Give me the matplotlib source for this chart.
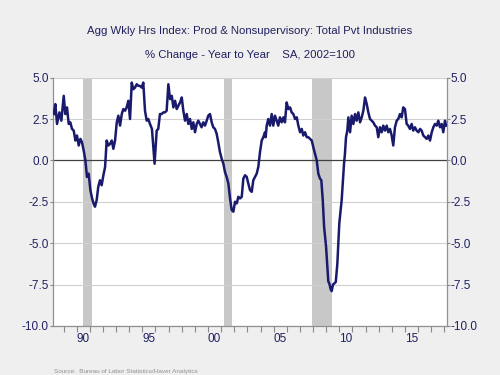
import matplotlib
matplotlib.use("Agg")
import matplotlib.pyplot as plt

# year-over-year % change (decimal years)
years = [
    1988.25, 1988.37, 1988.50, 1988.68, 1988.83, 1989.01, 1989.13, 1989.26, 1989.39, 1989.51,
    1989.64, 1989.77, 1989.90, 1990.02, 1990.15, 1990.28, 1990.40, 1990.53, 1990.66, 1990.78,
    1990.91, 1991.04, 1991.17, 1991.28, 1991.39, 1991.52, 1991.64, 1991.77, 1991.90, 1992.03,
    1992.16, 1992.28, 1992.41, 1992.54, 1992.67, 1992.79, 1992.92, 1993.05, 1993.17, 1993.30,
    1993.43, 1993.55, 1993.68, 1993.80, 1993.93, 1994.06, 1994.19, 1994.31, 1994.44, 1994.57,
    1994.70, 1994.82, 1994.95, 1995.07, 1995.20, 1995.33, 1995.45, 1995.58, 1995.73, 1995.93,
    1996.09, 1996.21, 1996.34, 1996.47, 1996.60, 1996.72, 1996.85, 1996.98, 1997.11, 1997.24,
    1997.36, 1997.49, 1997.62, 1997.74, 1997.87, 1998.00, 1998.12, 1998.25, 1998.38, 1998.50,
    1998.63, 1998.76, 1998.88, 1999.01, 1999.14, 1999.26, 1999.39, 1999.51, 1999.64, 1999.77,
    1999.90, 2000.02, 2000.15, 2000.28, 2000.40, 2000.53, 2000.66, 2000.78, 2000.91, 2001.04,
    2001.17, 2001.29, 2001.42, 2001.55, 2001.68, 2001.80, 2001.93, 2002.06, 2002.19, 2002.31,
    2002.44, 2002.57, 2002.69, 2002.82, 2002.95, 2003.07, 2003.20, 2003.33, 2003.45, 2003.58,
    2003.71, 2003.83, 2003.96, 2004.09, 2004.21, 2004.34, 2004.39, 2004.47, 2004.59, 2004.72,
    2004.85, 2004.97, 2005.10, 2005.23, 2005.35, 2005.48, 2005.61, 2005.74, 2005.86, 2005.99,
    2006.12, 2006.25, 2006.37, 2006.50, 2006.63, 2006.76, 2006.88, 2007.01, 2007.14, 2007.26,
    2007.39, 2007.52, 2007.64, 2007.77, 2007.90, 2008.02, 2008.15, 2008.28, 2008.40, 2008.53,
    2008.63, 2008.74, 2008.84, 2008.99, 2009.08, 2009.16, 2009.24, 2009.35, 2009.42, 2009.52,
    2009.60, 2009.73, 2009.85, 2010.00, 2010.18, 2010.26, 2010.36, 2010.43, 2010.51, 2010.61,
    2010.69, 2010.82, 2010.94, 2011.07, 2011.20, 2011.32, 2011.45, 2011.58, 2011.71, 2011.83,
    2011.96, 2012.09, 2012.21, 2012.34, 2012.47, 2012.59, 2012.72, 2012.85, 2012.97, 2013.10,
    2013.23, 2013.35, 2013.48, 2013.61, 2013.73, 2013.86, 2013.99, 2014.11, 2014.24, 2014.37,
    2014.49, 2014.62, 2014.75, 2014.87, 2015.00, 2015.13, 2015.25, 2015.38, 2015.51, 2015.63,
    2015.76, 2015.89, 2016.02, 2016.15, 2016.27, 2016.40, 2016.53, 2016.66, 2016.78, 2016.91,
    2017.04, 2017.16, 2017.29, 2017.42, 2017.54, 2017.67, 2017.80, 2017.92, 2018.05, 2018.13,
]
pct_change = [
    2.8, 3.4, 2.2, 2.9, 2.4, 3.9, 2.8, 3.2, 2.2, 2.3,
    1.9, 1.8, 1.2, 1.5, 0.9, 1.3, 1.1, 0.6, 0.0, -1.0,
    -0.8, -1.8, -2.3, -2.6, -2.8, -2.4, -1.6, -1.2, -1.5, -0.9,
    -0.4, 1.2, 0.9, 1.0, 1.2, 0.7, 1.2, 2.3, 2.7, 2.1,
    2.8, 3.1, 3.0, 3.2, 3.6, 2.5, 4.7, 4.3, 4.4, 4.6,
    4.5, 4.5, 4.4, 4.7, 3.0, 2.4, 2.5, 2.2, 1.9, -0.2,
    1.8, 1.9, 2.8, 2.8, 2.9, 2.9, 3.0, 4.6, 3.7, 3.9,
    3.2, 3.6, 3.1, 3.3, 3.5, 3.8, 3.0, 2.4, 2.8, 2.2,
    2.5, 1.9, 2.3, 1.7, 2.2, 2.4, 2.2, 2.0, 2.3, 2.1,
    2.4, 2.7, 2.8, 2.3, 2.0, 1.9, 1.6, 1.1, 0.5, 0.1,
    -0.2, -0.7, -1.0, -1.4, -2.3, -3.0, -3.1, -2.5, -2.6, -2.2,
    -2.3, -2.2, -1.1, -0.9, -1.0, -1.4, -1.8, -1.9, -1.2, -1.0,
    -0.8, -0.4, 0.5, 1.2, 1.4, 1.7, 1.4, 2.1, 2.5, 2.1,
    2.8, 2.1, 2.7, 2.4, 2.1, 2.6, 2.3, 2.6, 2.3, 3.5,
    3.1, 3.2, 2.9, 2.8, 2.5, 2.6, 2.1, 1.7, 1.9, 1.5,
    1.7, 1.4, 1.4, 1.3, 1.2, 0.8, 0.4, 0.0, -0.8, -1.1,
    -1.2, -2.4, -4.0, -5.2, -6.3, -7.3, -7.45, -7.8, -7.9, -7.5,
    -7.45, -7.35, -6.25, -3.8, -2.4, -1.4, -0.2, 0.4, 1.4, 1.8,
    2.6, 1.7, 2.7, 2.2, 2.8, 2.4, 2.9, 2.3, 2.6, 3.0,
    3.8, 3.4, 2.9, 2.5, 2.4, 2.3, 2.1, 2.0, 1.4, 2.0,
    1.7, 2.1, 1.8, 2.1, 1.7, 1.9, 1.5, 0.9, 2.0, 2.4,
    2.5, 2.8, 2.6, 3.2, 3.1, 2.2, 2.1, 1.9, 2.2, 1.8,
    2.0, 1.8, 1.7, 1.9, 1.8, 1.5, 1.4, 1.3, 1.5, 1.2,
    1.7, 2.0, 2.2, 2.1, 2.4, 2.0, 2.2, 1.7, 2.4, 2.1,
]
recessions = [(1990.50, 1991.17), (2001.22, 2001.86), (2007.92, 2009.42)]
year_labels = ["90", "95", "00", "05", "10", "15"]
label_years = [1990, 1995, 2000, 2005, 2010, 2015]
y_ticks = [-10.0, -7.5, -5.0, -2.5, 0.0, 2.5, 5.0]

navy = "#1a1a6c"
text_navy = "#202060"
bg = "#efefef"

plt.rcParams["font.family"] = ["Liberation Sans", "DejaVu Sans"]

fig = plt.figure(figsize=(5, 3.75), dpi=100, facecolor=bg)
ax = fig.add_axes([0.1054, 0.131, 0.788, 0.662])
ax.set_facecolor("white")

for start, end in recessions:
    ax.axvspan(start, end, color="#c8c8c8", lw=0, zorder=1)

for y in y_ticks:
    if y == 0.0:
        ax.axhline(y, color="#404040", lw=0.9, zorder=2)
    else:
        ax.axhline(y, color="#d0d0d0", lw=0.8, zorder=2)

ax.plot(years, pct_change, color=navy, lw=1.8, zorder=3)

ax.set_xlim(1988.17, 2018.18)
ax.set_ylim(-10, 5)

# year ticks at boundaries, labels centred on the year
ax.set_xticks(range(1989, 2019))
ax.set_xticklabels([])
ax.set_xticks([y + 0.5 for y in label_years], minor=True)
ax.set_xticklabels(year_labels, minor=True)
ax.tick_params(axis="x", which="major", direction="out", length=4, color="#888888", width=0.8)
ax.tick_params(axis="x", which="minor", length=0, pad=5, labelsize=8.5, labelcolor=text_navy)

ax.set_yticks(y_ticks)
ax.set_yticklabels([f"{v:.1f}" for v in y_ticks])
ax.tick_params(axis="y", direction="out", length=2, color="#888888", width=0.8,
               labelsize=8.5, labelcolor=text_navy, left=True, right=True,
               labelleft=True, labelright=True, pad=0.8)

for side in ["left", "right", "bottom"]:
    ax.spines[side].set_color("#909090")
    ax.spines[side].set_linewidth(0.9)
ax.spines["top"].set_visible(False)

fig.text(0.5, 1 - 30.5 / 375, "Agg Wkly Hrs Index: Prod & Nonsupervisory: Total Pvt Industries",
         ha="center", va="center", fontsize=8.2, color=text_navy)
fig.text(0.5, 1 - 55 / 375, "% Change - Year to Year    SA, 2002=100",
         ha="center", va="center", fontsize=8.2, color=text_navy)
fig.text(54 / 500, 1 - 371 / 375, "Source:  Bureau of Labor Statistics/Haver Analytics",
         ha="left", va="center", fontsize=4.6, color="#909090")

fig.savefig("out.png", dpi=100, facecolor=bg)
